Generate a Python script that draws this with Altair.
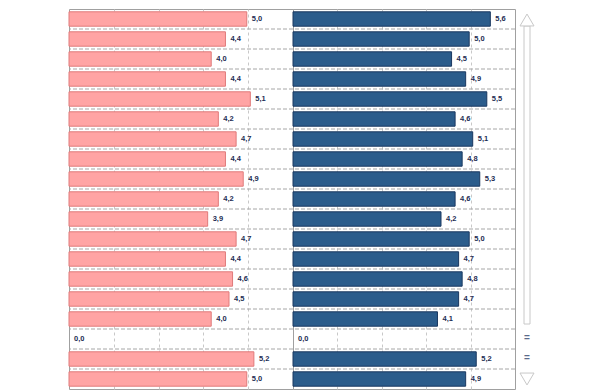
import altair as alt
import pandas as pd

# ---- data ----
left_values = [5.0, 4.4, 4.0, 4.4, 5.1, 4.2, 4.7, 4.4, 4.9, 4.2, 3.9, 4.7, 4.4, 4.6, 4.5, 4.0, 0.0, 5.2, 5.0]
right_values = [5.6, 5.0, 4.5, 4.9, 5.5, 4.6, 5.1, 4.8, 5.3, 4.6, 4.2, 5.0, 4.7, 4.8, 4.7, 4.1, 0.0, 5.2, 4.9]
trends = ["up"] * 16 + ["=", "=", "down"]

X_MAX = 6.3
N = len(left_values)
GRID_VALUES = [X_MAX * k / 5 for k in range(1, 5)]
PANEL_H = 380


def fmt(v):
    return f"{v:.1f}".replace(".", ",")


def panel(values, fill, stroke, width):
    df = pd.DataFrame({"row": list(range(N)), "v": values, "label": [fmt(v) for v in values]})
    xs = alt.Scale(domain=[0, X_MAX], nice=False, zero=True)
    xax = alt.Axis(values=GRID_VALUES, grid=True, gridDash=[3, 3], gridColor="#c8c8c8",
                   gridWidth=1, labels=False, ticks=False, domain=False, title=None)
    ys = alt.Scale(domain=list(range(N)), paddingInner=0.28, paddingOuter=0.14)
    base = alt.Chart(df)
    seps = alt.Chart(pd.DataFrame({"b": list(range(1, N))})).mark_rule(
        color="#a6a6a6", strokeDash=[4, 2], strokeWidth=1
    ).encode(
        y=alt.Y("b:Q", scale=alt.Scale(domain=[0, N], reverse=True, nice=False, zero=False), axis=None)
    )
    bars = base.mark_bar(fill=fill, stroke=stroke, strokeWidth=1).encode(
        x=alt.X("v:Q", scale=xs, axis=xax),
        y=alt.Y("row:O", scale=ys, axis=None),
    ).transform_filter("datum.v > 0")
    texts = base.mark_text(
        align="left", baseline="middle", dx=5, fontSize=7.5, fontWeight="bold",
        fill="#1c2c52", font="Liberation Sans"
    ).encode(
        x=alt.X("v:Q", scale=xs, axis=xax),
        y=alt.Y("row:O", scale=ys, axis=None),
        text="label:N",
    )
    return alt.layer(seps, bars, texts).resolve_scale(y="independent").properties(
        width=width, height=PANEL_H
    )


left = panel(left_values, "#ffa4a4", "#e07a7a", 224)
right = panel(right_values, "#2b5c8b", "#1a3860", 222)

# ---- trend indicator column ----
up_rows = [i for i, t in enumerate(trends) if t == "up"]
first_up, last_up = up_rows[0], up_rows[-1]
shaft_df = pd.DataFrame({"c": ["t"], "y0": [first_up + 0.85], "y1": [last_up + 0.75]})
sym_df = pd.DataFrame({
    "c": ["t"] + ["t" for t in trends if t == "down"],
    "y": [first_up + 0.55] + [i + 0.5 for i, t in enumerate(trends) if t == "down"],
    "s": ["up"] + ["down" for t in trends if t == "down"],
})
eq_df = pd.DataFrame({
    "c": ["t" for t in trends if t == "="],
    "y": [i + 0.45 for i, t in enumerate(trends) if t == "="],
})

iy = alt.Scale(domain=[0, N], reverse=True, nice=False, zero=False)
ix = alt.Scale(domain=["t"])
UP_PATH = "M-1,0.85L0,-0.85L1,0.85Z"
DOWN_PATH = "M-1,-0.85L1,-0.85L0,0.85Z"

shaft = alt.Chart(shaft_df).mark_bar(width=6, fill="white", stroke="#c8c8c8", strokeWidth=1).encode(
    x=alt.X("c:N", scale=ix, axis=None),
    y=alt.Y("y0:Q", scale=iy, axis=None),
    y2="y1:Q",
)
heads = alt.Chart(sym_df).mark_point(filled=True, fill="white", stroke="#c8c8c8", strokeWidth=1,
                                     opacity=1, size=196).encode(
    x=alt.X("c:N", scale=ix, axis=None),
    y=alt.Y("y:Q", scale=iy, axis=None),
    shape=alt.Shape("s:N", scale=alt.Scale(domain=["up", "down"], range=[UP_PATH, DOWN_PATH]), legend=None),
)
eqs = alt.Chart(eq_df).mark_text(text="=", fontSize=10, fontWeight="bold", color="#5b6b8c",
                                 baseline="middle", font="Liberation Sans").encode(
    x=alt.X("c:N", scale=ix, axis=None),
    y=alt.Y("y:Q", scale=iy, axis=None),
)
indicator = alt.layer(shaft, heads, eqs).properties(
    width=24, height=PANEL_H, view=alt.ViewBackground(stroke="transparent")
)

chart = alt.hconcat(left, right, indicator, spacing=0, bounds="flush").properties(
    padding={"left": 60, "top": 0, "right": 5, "bottom": 0},
    background="white",
).configure_view(stroke="#a0a0a0")

chart.save("out.html", embed_options={"renderer": "svg", "actions": False})
